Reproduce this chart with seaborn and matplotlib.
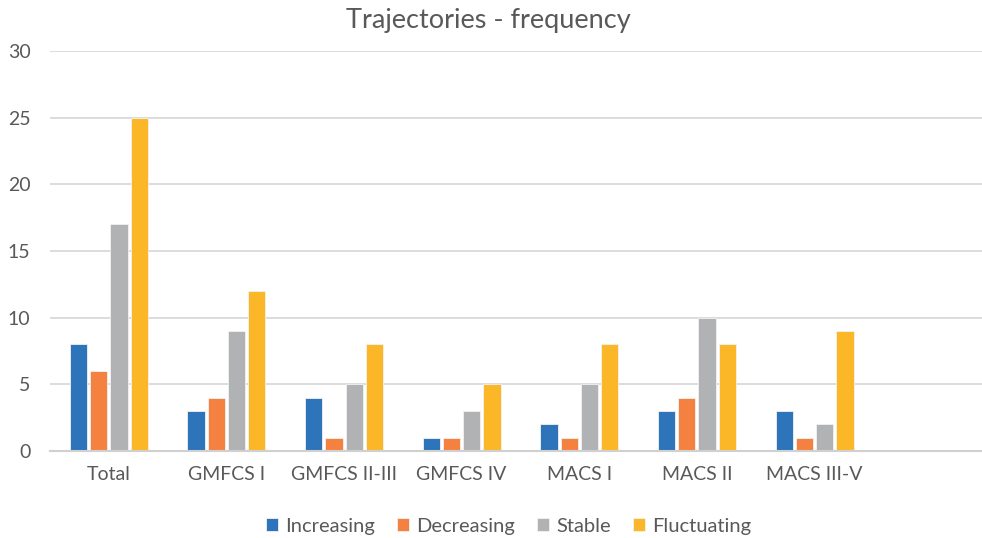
import pandas as pd
import matplotlib.pyplot as plt
import seaborn as sns

# Values
categories = ["Total", "GMFCS I", "GMFCS II-III", "GMFCS IV", "MACS I", "MACS II", "MACS III-V"]
series = ["Increasing", "Decreasing", "Stable", "Fluctuating"]
increasing = [8, 3, 4, 1, 2, 3, 3]
decreasing = [6, 4, 1, 1, 1, 4, 1]
stable = [17, 9, 5, 3, 5, 10, 2]
fluctuating = [25, 12, 8, 5, 8, 8, 9]
colors = ["#2E74BB", "#F58140", "#B1B2B4", "#FBB728"]

df = pd.DataFrame({
    "category": categories * 4,
    "trajectory": [s for s in series for _ in categories],
    "count": increasing + decreasing + stable + fluctuating,
})

sns.set_style("white")
plt.rcParams["font.family"] = ["Lato", "DejaVu Sans"]

fig = plt.figure(figsize=(9.82, 5.38), dpi=100)
# one empty category slot on the right, as in the original
ax = fig.add_axes([50 / 982, 87 / 538, 941 / 982, 400 / 538])

sns.barplot(data=df, x="category", y="count", hue="trajectory", order=categories,
            hue_order=series, palette=colors, width=0.69, gap=0.15,
            saturation=1, linewidth=0.6, edgecolor="#F2F2F2", ax=ax, legend=True)

ax.set_xlim(-0.5, 7.5)
ax.set_ylim(0, 30)
ax.set_yticks(range(0, 31, 5))
ax.yaxis.grid(True, color="#D9D9D9", linewidth=1.3)
ax.set_axisbelow(True)
for side in ["top", "right", "left"]:
    ax.spines[side].set_visible(False)
ax.spines["bottom"].set_color("#D0D0D0")
ax.spines["bottom"].set_linewidth(1.5)
ax.tick_params(axis="both", length=0, labelsize=14, colors="#595959")
ax.tick_params(axis="x", pad=11)
ax.tick_params(axis="y", pad=14)
ax.set_xlabel("")
ax.set_ylabel("")

fig.text(0.497, 0.962, "Trajectories - frequency", ha="center", va="center",
         fontsize=19.5, color="#595959")

handles, labels = ax.get_legend_handles_labels()
ax.legend_.remove()
fig.legend(handles, labels, loc="center", bbox_to_anchor=(0.518, 0.022), ncol=4,
           frameon=False, fontsize=14.5, labelcolor="#595959", handlelength=0.6,
           handleheight=0.6, handletextpad=0.35, columnspacing=1.1)

plt.savefig("out.png", dpi=100)
